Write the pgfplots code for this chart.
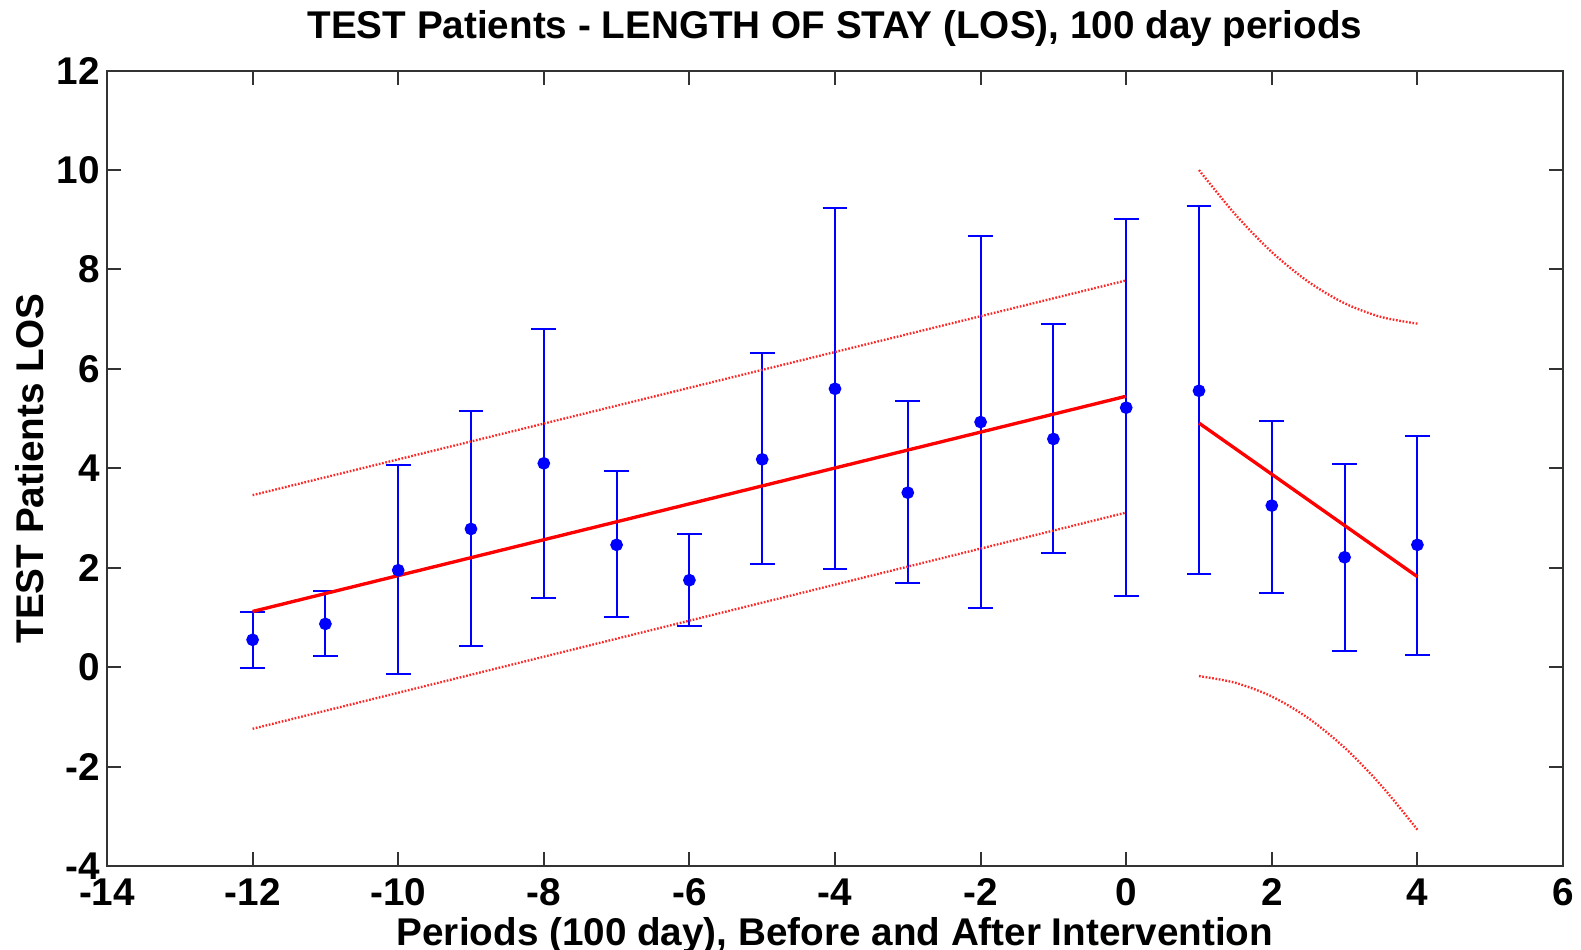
\documentclass[border=0pt]{standalone}
\usepackage{pgfplots}
\pgfplotsset{compat=1.18}
\usepackage{pgfplotstable}
\usepackage{fontspec}
\setmainfont{Liberation Sans}
\pgfplotstableread{
x y ep em
-12 0.55 0.55 0.57
-11 0.87 0.67 0.65
-10 1.95 2.11 2.09
-9 2.78 2.38 2.35
-8 4.10 2.70 2.70
-7 2.46 1.48 1.46
-6 1.75 0.93 0.92
-5 4.18 2.13 2.11
-4 5.60 3.64 3.63
-3 3.51 1.85 1.82
-2 4.93 3.74 3.75
-1 4.59 2.31 2.30
0 5.22 3.80 3.78
1 5.56 3.72 3.69
2 3.25 1.70 1.75
3 2.21 1.87 1.89
4 2.46 2.19 2.22
}\los
\begin{document}
\begin{tikzpicture}
\begin{axis}[
  name=ax,
  scale only axis,
  width=436.8pt, height=238.6pt,
  xmin=-14, xmax=6, ymin=-4, ymax=12,
  xtick={-14,-12,...,6}, ytick={-4,-2,...,12},
  tick align=inside,
  major tick length=4.2pt,
  axis line style={line width=0.6pt, black!80},
  every tick/.style={line width=0.6pt, black!80},
  font=\fontsize{11.6}{13.5}\selectfont\bfseries,
  /pgf/number format/assume math mode=true,
  yticklabel style={inner xsep=2pt},
  xticklabel style={inner ysep=3.6pt},
  xlabel={Periods (100 day), Before and After Intervention},
  xlabel style={at={(axis description cs:0.5,-0.0994)}, anchor=base, inner sep=0pt},
  ylabel={TEST Patients LOS},
  ylabel style={at={(axis description cs:-0.0439,0.5)}, anchor=base, rotate=0, inner sep=0pt},
  clip=false,
]
% data with error bars
\addplot[blue, line width=0.6pt, only marks, mark=*, mark size=1.6pt,
  mark options={fill=blue, draw=blue},
  error bars/.cd, y dir=both, y explicit,
  error bar style={line width=0.6pt, blue},
  error mark options={rotate=90, mark size=3.7pt, line width=0.6pt, blue}]
  table[x=x, y=y, y error plus=ep, y error minus=em]{\los};
% fit lines
\addplot[red, line width=1pt] coordinates {(-12,1.12) (0,5.45)};
\addplot[red, line width=1pt] coordinates {(1,4.91) (4,1.82)};
% prediction bands
\addplot[red!85, line width=0.7pt, dash pattern=on 0.5pt off 0.5pt] coordinates {(-12,3.46) (0,7.78)};
\addplot[red!85, line width=0.7pt, dash pattern=on 0.5pt off 0.5pt] coordinates {(-12,-1.24) (0,3.11)};
\addplot[red!85, line width=0.7pt, dash pattern=on 0.5pt off 0.5pt, smooth] coordinates {
  (1,10.0) (1.5,9.105) (2,8.35) (2.5,7.755) (3,7.32) (3.5,7.045) (4,6.91)};
\addplot[red!85, line width=0.7pt, dash pattern=on 0.5pt off 0.5pt, smooth] coordinates {
  (1,-0.18) (1.5,-0.315) (2,-0.59) (2.5,-1.025) (3,-1.62) (3.5,-2.375) (4,-3.27)};
\end{axis}
\node[anchor=base, inner sep=0pt, font=\fontsize{11.6}{13.5}\selectfont\bfseries]
  at ([yshift=9.7pt]ax.north) {TEST Patients - LENGTH OF STAY (LOS), 100 day periods};
\pgfresetboundingbox
\path ([shift={(-32.1pt,-25.2pt)}]ax.south west) rectangle ([shift={(5.4pt,21.2pt)}]ax.north east);
\end{tikzpicture}
\end{document}
